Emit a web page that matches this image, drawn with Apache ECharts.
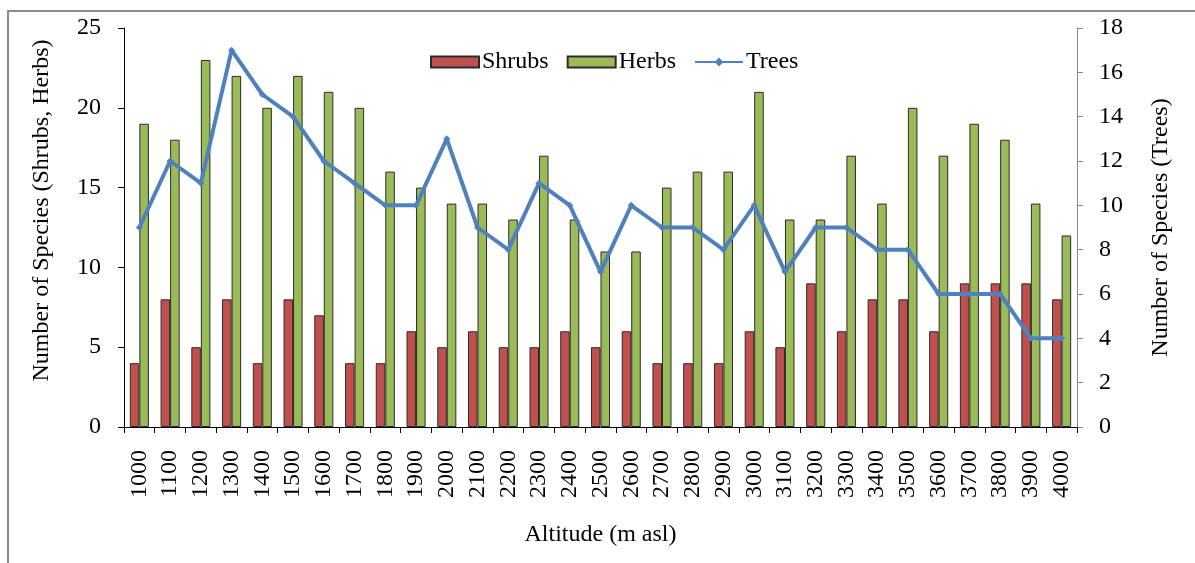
<!DOCTYPE html>
<html>
<head>
<meta charset="utf-8">
<script src="https://cdn.jsdelivr.net/npm/echarts@6/dist/echarts.min.js"></script>
<style>
  html, body { margin: 0; padding: 0; background: #fff; }
  #chart { width: 1195px; height: 563px; }
</style>
</head>
<body>
<div id="chart"></div>
<script>
// Altitude bands (m asl)
const altitudes = ['1000','1100','1200','1300','1400','1500','1600','1700','1800','1900',
  '2000','2100','2200','2300','2400','2500','2600','2700','2800','2900',
  '3000','3100','3200','3300','3400','3500','3600','3700','3800','3900','4000'];

// Species counts per altitude band
const shrubs = [4,8,5,8,4,8,7,4,4,6,5,6,5,5,6,5,6,4,4,4,6,5,9,6,8,8,6,9,9,9,8];
const herbs  = [19,18,23,22,20,22,21,20,16,15,14,14,13,17,13,11,11,15,16,16,21,13,13,17,14,20,17,19,18,14,12];
const trees  = [9,12,11,17,15,14,12,11,10,10,13,9,8,11,10,7,10,9,9,8,10,7,9,9,8,8,6,6,6,4,4];

const FONT = '"Liberation Serif", "Times New Roman", serif';
const FS = 24;

const chart = echarts.init(document.getElementById('chart'), null, { renderer: 'canvas' });

chart.setOption({
  backgroundColor: '#ffffff',
  animation: false,
  textStyle: { fontFamily: FONT, color: '#000' },
  graphic: [{
    type: 'rect',
    shape: { x: 8, y: 11, width: 1240, height: 600 },
    style: { fill: 'none', stroke: '#8c8c8c', lineWidth: 2 },
    silent: true
  }],
  legend: {
    top: 45,
    left: 425,
    itemWidth: 48,
    itemHeight: 11,
    itemGap: 18,
    textStyle: { fontFamily: FONT, fontSize: FS, color: '#000', padding: [0, 0, 0, -2] },
    data: [
      { name: 'Shrubs', icon: 'rect' },
      { name: 'Herbs', icon: 'rect' },
      { name: 'Trees' }
    ]
  },
  grid: { left: 124, right: 118, top: 28, bottom: 136, containLabel: false },
  xAxis: {
    type: 'category',
    data: altitudes,
    boundaryGap: true,
    name: 'Altitude (m asl)',
    nameLocation: 'middle',
    nameGap: 96,
    nameTextStyle: { fontFamily: FONT, fontSize: FS, color: '#000' },
    axisLine: { lineStyle: { color: '#000', width: 1 } },
    axisTick: { show: true, alignWithLabel: false, length: 6, lineStyle: { color: '#000' } },
    axisLabel: { rotate: 90, fontFamily: FONT, fontSize: FS, color: '#000', margin: 23, interval: 0 }
  },
  yAxis: [{
    type: 'value',
    min: 0, max: 25, interval: 5,
    name: 'Number of Species (Shrubs, Herbs)',
    nameLocation: 'middle',
    nameGap: 70,
    nameRotate: 90,
    nameTextStyle: { fontFamily: FONT, fontSize: FS, color: '#000', padding: [0, 0, 0, 34] },
    splitLine: { show: false },
    axisLine: { show: true, lineStyle: { color: '#000' } },
    axisTick: { show: true, length: 6, lineStyle: { color: '#000' } },
    axisLabel: { fontFamily: FONT, fontSize: FS, color: '#000', margin: 23 }
  }, {
    type: 'value',
    min: 0, max: 18, interval: 2,
    position: 'right',
    name: 'Number of Species (Trees)',
    nameLocation: 'middle',
    nameGap: 72,
    nameRotate: 90,
    nameTextStyle: { fontFamily: FONT, fontSize: FS, color: '#000' },
    splitLine: { show: false },
    axisLine: { show: true, lineStyle: { color: '#868686' } },
    axisTick: { show: true, length: 6, lineStyle: { color: '#868686' } },
    axisLabel: { fontFamily: FONT, fontSize: FS, color: '#000', margin: 22 }
  }],
  series: [{
    name: 'Shrubs',
    type: 'bar',
    yAxisIndex: 0,
    data: shrubs,
    barGap: '0%',
    barCategoryGap: '38%',
    itemStyle: { color: '#C0504D', borderColor: '#2b2b2b', borderWidth: 1 }
  }, {
    name: 'Herbs',
    type: 'bar',
    yAxisIndex: 0,
    data: herbs,
    barGap: '0%',
    barCategoryGap: '38%',
    itemStyle: { color: '#9BBB59', borderColor: '#2b2b2b', borderWidth: 1 }
  }, {
    name: 'Trees',
    type: 'line',
    yAxisIndex: 1,
    data: trees,
    symbol: 'diamond',
    symbolSize: 7,
    showSymbol: true,
    lineStyle: { color: '#4F81BD', width: 4 },
    itemStyle: { color: '#4F81BD' }
  }]
});
</script>
</body>
</html>
